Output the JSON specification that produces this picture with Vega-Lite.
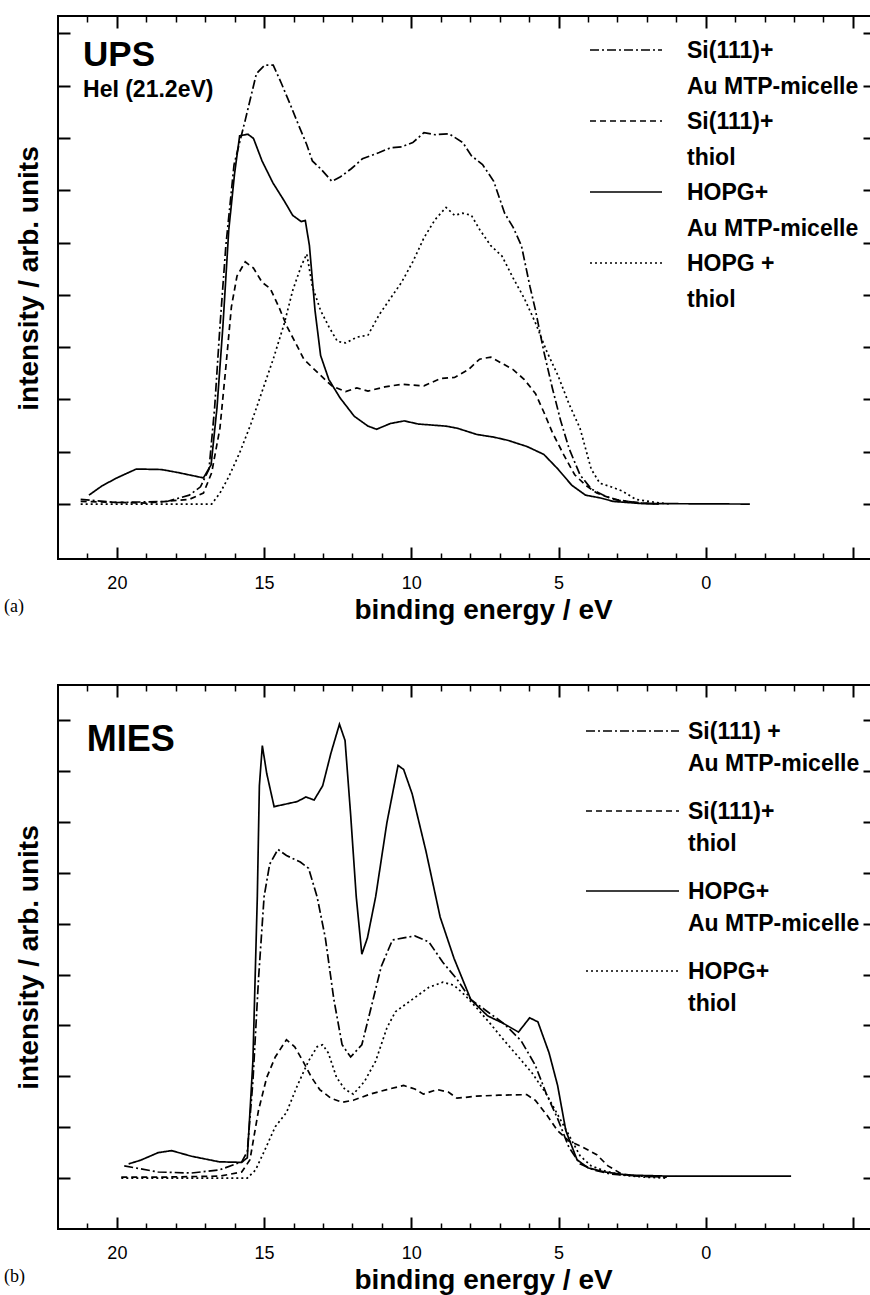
{
  "$schema": "https://vega.github.io/schema/vega-lite/v6.json",
  "padding": {"left": 3, "top": 14, "right": 0, "bottom": 0},
  "background": "white",
  "config": {
    "font": "Liberation Sans",
    "view": {"stroke": "black", "strokeWidth": 2},
    "axis": {"grid": false, "domain": false, "tickColor": "black", "labelColor": "black", "titleColor": "black"},
    "mark": {"color": "black"}
  },
  "spacing": 58,
  "resolve": {"scale": {"strokeDash": "independent"}, "legend": {"strokeDash": "independent"}},
  "datasets": {
    "ups": [
      {"E":20.95,"I":0.17,"s":"HA"},{"E":20.5,"I":0.35,"s":"HA"},{"E":20.0,"I":0.5,"s":"HA"},{"E":19.34,"I":0.67,"s":"HA"},{"E":18.48,"I":0.66,"s":"HA"},{"E":17.9,"I":0.6,"s":"HA"},{"E":17.06,"I":0.5,"s":"HA"},{"E":16.8,"I":0.75,"s":"HA"},{"E":16.6,"I":1.84,"s":"HA"},{"E":16.4,"I":3.39,"s":"HA"},{"E":16.2,"I":5.24,"s":"HA"},{"E":16.0,"I":6.33,"s":"HA"},{"E":15.83,"I":7.04,"s":"HA"},{"E":15.55,"I":7.07,"s":"HA"},{"E":15.36,"I":6.99,"s":"HA"},{"E":15.07,"I":6.56,"s":"HA"},{"E":14.7,"I":6.14,"s":"HA"},{"E":14.31,"I":5.79,"s":"HA"},{"E":14.03,"I":5.52,"s":"HA"},{"E":13.74,"I":5.4,"s":"HA"},{"E":13.6,"I":5.42,"s":"HA"},{"E":13.46,"I":4.94,"s":"HA"},{"E":13.27,"I":3.7,"s":"HA"},{"E":13.08,"I":2.84,"s":"HA"},{"E":12.8,"I":2.38,"s":"HA"},{"E":12.42,"I":2.03,"s":"HA"},{"E":11.94,"I":1.68,"s":"HA"},{"E":11.47,"I":1.49,"s":"HA"},{"E":11.18,"I":1.43,"s":"HA"},{"E":10.71,"I":1.54,"s":"HA"},{"E":10.24,"I":1.59,"s":"HA"},{"E":9.76,"I":1.53,"s":"HA"},{"E":8.82,"I":1.49,"s":"HA"},{"E":8.44,"I":1.45,"s":"HA"},{"E":7.77,"I":1.33,"s":"HA"},{"E":7.2,"I":1.28,"s":"HA"},{"E":6.73,"I":1.22,"s":"HA"},{"E":6.07,"I":1.1,"s":"HA"},{"E":5.5,"I":0.95,"s":"HA"},{"E":5.02,"I":0.67,"s":"HA"},{"E":4.55,"I":0.36,"s":"HA"},{"E":4.08,"I":0.17,"s":"HA"},{"E":3.6,"I":0.12,"s":"HA"},{"E":3.13,"I":0.05,"s":"HA"},{"E":2.18,"I":0.01,"s":"HA"},{"E":-1.5,"I":0,"s":"HA"},
      {"E":21.23,"I":0.09,"s":"SA"},{"E":20.0,"I":0.03,"s":"SA"},{"E":18.3,"I":0.05,"s":"SA"},{"E":17.54,"I":0.17,"s":"SA"},{"E":17.16,"I":0.33,"s":"SA"},{"E":16.87,"I":0.67,"s":"SA"},{"E":16.68,"I":1.84,"s":"SA"},{"E":16.5,"I":3.39,"s":"SA"},{"E":16.3,"I":4.93,"s":"SA"},{"E":16.02,"I":6.49,"s":"SA"},{"E":15.64,"I":7.34,"s":"SA"},{"E":15.26,"I":8.23,"s":"SA"},{"E":14.98,"I":8.39,"s":"SA"},{"E":14.69,"I":8.39,"s":"SA"},{"E":14.41,"I":8.04,"s":"SA"},{"E":14.12,"I":7.65,"s":"SA"},{"E":13.84,"I":7.26,"s":"SA"},{"E":13.55,"I":6.87,"s":"SA"},{"E":13.36,"I":6.56,"s":"SA"},{"E":13.08,"I":6.41,"s":"SA"},{"E":12.7,"I":6.17,"s":"SA"},{"E":12.42,"I":6.25,"s":"SA"},{"E":12.04,"I":6.41,"s":"SA"},{"E":11.66,"I":6.6,"s":"SA"},{"E":11.09,"I":6.72,"s":"SA"},{"E":10.71,"I":6.81,"s":"SA"},{"E":10.33,"I":6.83,"s":"SA"},{"E":9.95,"I":6.91,"s":"SA"},{"E":9.57,"I":7.1,"s":"SA"},{"E":9.19,"I":7.06,"s":"SA"},{"E":8.72,"I":7.08,"s":"SA"},{"E":8.25,"I":6.91,"s":"SA"},{"E":7.96,"I":6.66,"s":"SA"},{"E":7.58,"I":6.49,"s":"SA"},{"E":7.2,"I":6.17,"s":"SA"},{"E":6.83,"I":5.56,"s":"SA"},{"E":6.54,"I":5.29,"s":"SA"},{"E":6.26,"I":4.94,"s":"SA"},{"E":5.97,"I":4.16,"s":"SA"},{"E":5.78,"I":3.7,"s":"SA"},{"E":5.5,"I":2.92,"s":"SA"},{"E":5.21,"I":2.22,"s":"SA"},{"E":4.93,"I":1.6,"s":"SA"},{"E":4.64,"I":1.06,"s":"SA"},{"E":4.27,"I":0.56,"s":"SA"},{"E":3.89,"I":0.29,"s":"SA"},{"E":3.41,"I":0.15,"s":"SA"},{"E":2.94,"I":0.07,"s":"SA"},{"E":2.18,"I":0.02,"s":"SA"},{"E":1.6,"I":0,"s":"SA"},
      {"E":21.23,"I":0.05,"s":"ST"},{"E":19.0,"I":0.02,"s":"ST"},{"E":17.54,"I":0.09,"s":"ST"},{"E":17.06,"I":0.21,"s":"ST"},{"E":16.78,"I":0.6,"s":"ST"},{"E":16.5,"I":1.45,"s":"ST"},{"E":16.3,"I":2.61,"s":"ST"},{"E":16.11,"I":3.77,"s":"ST"},{"E":15.92,"I":4.36,"s":"ST"},{"E":15.64,"I":4.63,"s":"ST"},{"E":15.36,"I":4.51,"s":"ST"},{"E":15.07,"I":4.24,"s":"ST"},{"E":14.79,"I":4.12,"s":"ST"},{"E":14.5,"I":3.77,"s":"ST"},{"E":14.22,"I":3.39,"s":"ST"},{"E":13.93,"I":3.08,"s":"ST"},{"E":13.65,"I":2.77,"s":"ST"},{"E":13.36,"I":2.61,"s":"ST"},{"E":13.08,"I":2.46,"s":"ST"},{"E":12.7,"I":2.26,"s":"ST"},{"E":12.23,"I":2.15,"s":"ST"},{"E":11.85,"I":2.22,"s":"ST"},{"E":11.47,"I":2.16,"s":"ST"},{"E":10.9,"I":2.24,"s":"ST"},{"E":10.33,"I":2.29,"s":"ST"},{"E":9.57,"I":2.26,"s":"ST"},{"E":9.0,"I":2.4,"s":"ST"},{"E":8.53,"I":2.42,"s":"ST"},{"E":8.06,"I":2.57,"s":"ST"},{"E":7.68,"I":2.77,"s":"ST"},{"E":7.3,"I":2.81,"s":"ST"},{"E":6.92,"I":2.69,"s":"ST"},{"E":6.54,"I":2.57,"s":"ST"},{"E":6.16,"I":2.38,"s":"ST"},{"E":5.78,"I":2.11,"s":"ST"},{"E":5.5,"I":1.76,"s":"ST"},{"E":5.21,"I":1.37,"s":"ST"},{"E":4.83,"I":0.95,"s":"ST"},{"E":4.45,"I":0.56,"s":"ST"},{"E":4.08,"I":0.36,"s":"ST"},{"E":3.7,"I":0.21,"s":"ST"},{"E":3.13,"I":0.09,"s":"ST"},{"E":2.37,"I":0.03,"s":"ST"},{"E":1.6,"I":0,"s":"ST"},
      {"E":21.23,"I":0,"s":"HT"},{"E":16.78,"I":0,"s":"HT"},{"E":16.5,"I":0.21,"s":"HT"},{"E":16.2,"I":0.52,"s":"HT"},{"E":15.83,"I":0.98,"s":"HT"},{"E":15.45,"I":1.53,"s":"HT"},{"E":15.07,"I":2.15,"s":"HT"},{"E":14.69,"I":2.77,"s":"HT"},{"E":14.31,"I":3.46,"s":"HT"},{"E":14.03,"I":4.08,"s":"HT"},{"E":13.74,"I":4.55,"s":"HT"},{"E":13.55,"I":4.78,"s":"HT"},{"E":13.36,"I":4.16,"s":"HT"},{"E":13.08,"I":3.7,"s":"HT"},{"E":12.8,"I":3.39,"s":"HT"},{"E":12.51,"I":3.11,"s":"HT"},{"E":12.23,"I":3.08,"s":"HT"},{"E":11.85,"I":3.19,"s":"HT"},{"E":11.47,"I":3.23,"s":"HT"},{"E":11.09,"I":3.62,"s":"HT"},{"E":10.71,"I":3.93,"s":"HT"},{"E":10.33,"I":4.24,"s":"HT"},{"E":9.95,"I":4.63,"s":"HT"},{"E":9.57,"I":5.09,"s":"HT"},{"E":9.19,"I":5.44,"s":"HT"},{"E":8.82,"I":5.67,"s":"HT"},{"E":8.53,"I":5.52,"s":"HT"},{"E":8.25,"I":5.56,"s":"HT"},{"E":7.96,"I":5.52,"s":"HT"},{"E":7.68,"I":5.25,"s":"HT"},{"E":7.3,"I":4.94,"s":"HT"},{"E":6.92,"I":4.74,"s":"HT"},{"E":6.54,"I":4.32,"s":"HT"},{"E":6.16,"I":3.93,"s":"HT"},{"E":5.78,"I":3.46,"s":"HT"},{"E":5.4,"I":2.92,"s":"HT"},{"E":5.02,"I":2.46,"s":"HT"},{"E":4.64,"I":1.91,"s":"HT"},{"E":4.27,"I":1.45,"s":"HT"},{"E":3.89,"I":0.67,"s":"HT"},{"E":3.6,"I":0.4,"s":"HT"},{"E":3.22,"I":0.33,"s":"HT"},{"E":2.84,"I":0.25,"s":"HT"},{"E":2.37,"I":0.09,"s":"HT"},{"E":1.8,"I":0.04,"s":"HT"},{"E":1.23,"I":0,"s":"HT"}
    ],
    "mies": [
      {"E":19.6,"I":0.28,"s":"HA"},{"E":19.2,"I":0.35,"s":"HA"},{"E":18.6,"I":0.5,"s":"HA"},{"E":18.14,"I":0.54,"s":"HA"},{"E":17.47,"I":0.43,"s":"HA"},{"E":16.52,"I":0.32,"s":"HA"},{"E":15.76,"I":0.31,"s":"HA"},{"E":15.57,"I":0.4,"s":"HA"},{"E":15.38,"I":2.3,"s":"HA"},{"E":15.23,"I":5.53,"s":"HA"},{"E":15.16,"I":7.71,"s":"HA"},{"E":15.06,"I":8.5,"s":"HA"},{"E":14.91,"I":7.95,"s":"HA"},{"E":14.66,"I":7.3,"s":"HA"},{"E":14.34,"I":7.34,"s":"HA"},{"E":13.87,"I":7.4,"s":"HA"},{"E":13.58,"I":7.49,"s":"HA"},{"E":13.3,"I":7.43,"s":"HA"},{"E":13.01,"I":7.71,"s":"HA"},{"E":12.73,"I":8.35,"s":"HA"},{"E":12.44,"I":8.92,"s":"HA"},{"E":12.25,"I":8.6,"s":"HA"},{"E":12.06,"I":7.14,"s":"HA"},{"E":11.87,"I":5.53,"s":"HA"},{"E":11.68,"I":4.4,"s":"HA"},{"E":11.49,"I":4.72,"s":"HA"},{"E":11.21,"I":5.53,"s":"HA"},{"E":10.83,"I":6.98,"s":"HA"},{"E":10.45,"I":8.11,"s":"HA"},{"E":10.26,"I":8.03,"s":"HA"},{"E":9.97,"I":7.55,"s":"HA"},{"E":9.5,"I":6.42,"s":"HA"},{"E":9.02,"I":5.13,"s":"HA"},{"E":8.55,"I":4.32,"s":"HA"},{"E":7.98,"I":3.51,"s":"HA"},{"E":7.41,"I":3.19,"s":"HA"},{"E":6.84,"I":3.03,"s":"HA"},{"E":6.36,"I":2.87,"s":"HA"},{"E":5.98,"I":3.15,"s":"HA"},{"E":5.7,"I":3.07,"s":"HA"},{"E":5.32,"I":2.46,"s":"HA"},{"E":5.03,"I":1.82,"s":"HA"},{"E":4.75,"I":0.93,"s":"HA"},{"E":4.37,"I":0.36,"s":"HA"},{"E":3.99,"I":0.2,"s":"HA"},{"E":3.42,"I":0.12,"s":"HA"},{"E":2.66,"I":0.06,"s":"HA"},{"E":1.33,"I":0.04,"s":"HA"},{"E":-2.9,"I":0.04,"s":"HA"},
      {"E":19.75,"I":0.24,"s":"SA"},{"E":18.6,"I":0.12,"s":"SA"},{"E":17.47,"I":0.1,"s":"SA"},{"E":16.52,"I":0.16,"s":"SA"},{"E":15.76,"I":0.32,"s":"SA"},{"E":15.57,"I":0.52,"s":"SA"},{"E":15.38,"I":1.9,"s":"SA"},{"E":15.19,"I":3.91,"s":"SA"},{"E":15.0,"I":5.53,"s":"SA"},{"E":14.81,"I":6.17,"s":"SA"},{"E":14.53,"I":6.46,"s":"SA"},{"E":14.24,"I":6.34,"s":"SA"},{"E":13.77,"I":6.21,"s":"SA"},{"E":13.49,"I":6.09,"s":"SA"},{"E":13.2,"I":5.53,"s":"SA"},{"E":12.92,"I":4.72,"s":"SA"},{"E":12.63,"I":3.51,"s":"SA"},{"E":12.35,"I":2.62,"s":"SA"},{"E":12.06,"I":2.38,"s":"SA"},{"E":11.68,"I":2.62,"s":"SA"},{"E":11.4,"I":3.27,"s":"SA"},{"E":11.02,"I":4.16,"s":"SA"},{"E":10.64,"I":4.68,"s":"SA"},{"E":10.26,"I":4.72,"s":"SA"},{"E":9.88,"I":4.76,"s":"SA"},{"E":9.4,"I":4.64,"s":"SA"},{"E":8.93,"I":4.24,"s":"SA"},{"E":8.45,"I":3.91,"s":"SA"},{"E":7.98,"I":3.51,"s":"SA"},{"E":7.41,"I":3.27,"s":"SA"},{"E":6.84,"I":3.03,"s":"SA"},{"E":6.27,"I":2.7,"s":"SA"},{"E":5.79,"I":2.22,"s":"SA"},{"E":5.41,"I":1.65,"s":"SA"},{"E":5.03,"I":1.17,"s":"SA"},{"E":4.65,"I":0.61,"s":"SA"},{"E":4.27,"I":0.28,"s":"SA"},{"E":3.8,"I":0.16,"s":"SA"},{"E":3.23,"I":0.08,"s":"SA"},{"E":2.28,"I":0.04,"s":"SA"},{"E":1.33,"I":0.02,"s":"SA"},
      {"E":19.85,"I":0.02,"s":"ST"},{"E":18.4,"I":0.02,"s":"ST"},{"E":16.5,"I":0.04,"s":"ST"},{"E":15.76,"I":0.12,"s":"ST"},{"E":15.48,"I":0.36,"s":"ST"},{"E":15.19,"I":1.33,"s":"ST"},{"E":14.91,"I":1.98,"s":"ST"},{"E":14.62,"I":2.38,"s":"ST"},{"E":14.24,"I":2.72,"s":"ST"},{"E":13.96,"I":2.58,"s":"ST"},{"E":13.68,"I":2.3,"s":"ST"},{"E":13.39,"I":1.98,"s":"ST"},{"E":13.11,"I":1.74,"s":"ST"},{"E":12.73,"I":1.57,"s":"ST"},{"E":12.35,"I":1.49,"s":"ST"},{"E":11.97,"I":1.53,"s":"ST"},{"E":11.4,"I":1.65,"s":"ST"},{"E":10.83,"I":1.74,"s":"ST"},{"E":10.26,"I":1.82,"s":"ST"},{"E":9.88,"I":1.75,"s":"ST"},{"E":9.59,"I":1.65,"s":"ST"},{"E":9.12,"I":1.74,"s":"ST"},{"E":8.74,"I":1.69,"s":"ST"},{"E":8.45,"I":1.57,"s":"ST"},{"E":7.79,"I":1.61,"s":"ST"},{"E":7.03,"I":1.63,"s":"ST"},{"E":6.08,"I":1.64,"s":"ST"},{"E":5.79,"I":1.53,"s":"ST"},{"E":5.41,"I":1.25,"s":"ST"},{"E":5.03,"I":0.93,"s":"ST"},{"E":4.65,"I":0.73,"s":"ST"},{"E":4.18,"I":0.61,"s":"ST"},{"E":3.7,"I":0.46,"s":"ST"},{"E":3.32,"I":0.24,"s":"ST"},{"E":2.85,"I":0.08,"s":"ST"},{"E":2.28,"I":0.04,"s":"ST"},{"E":1.33,"I":0.02,"s":"ST"},
      {"E":19.85,"I":0,"s":"HT"},{"E":15.57,"I":0,"s":"HT"},{"E":15.29,"I":0.16,"s":"HT"},{"E":15.0,"I":0.52,"s":"HT"},{"E":14.62,"I":1.01,"s":"HT"},{"E":14.24,"I":1.29,"s":"HT"},{"E":13.87,"I":1.82,"s":"HT"},{"E":13.49,"I":2.3,"s":"HT"},{"E":13.2,"I":2.58,"s":"HT"},{"E":13.01,"I":2.62,"s":"HT"},{"E":12.82,"I":2.46,"s":"HT"},{"E":12.54,"I":1.98,"s":"HT"},{"E":12.25,"I":1.74,"s":"HT"},{"E":11.97,"I":1.65,"s":"HT"},{"E":11.59,"I":1.9,"s":"HT"},{"E":11.21,"I":2.3,"s":"HT"},{"E":10.83,"I":2.95,"s":"HT"},{"E":10.54,"I":3.27,"s":"HT"},{"E":10.16,"I":3.43,"s":"HT"},{"E":9.78,"I":3.59,"s":"HT"},{"E":9.4,"I":3.75,"s":"HT"},{"E":8.93,"I":3.85,"s":"HT"},{"E":8.55,"I":3.79,"s":"HT"},{"E":8.17,"I":3.59,"s":"HT"},{"E":7.79,"I":3.35,"s":"HT"},{"E":7.31,"I":3.03,"s":"HT"},{"E":6.84,"I":2.7,"s":"HT"},{"E":6.36,"I":2.38,"s":"HT"},{"E":5.89,"I":2.06,"s":"HT"},{"E":5.41,"I":1.65,"s":"HT"},{"E":5.03,"I":1.25,"s":"HT"},{"E":4.65,"I":0.85,"s":"HT"},{"E":4.27,"I":0.44,"s":"HT"},{"E":3.89,"I":0.24,"s":"HT"},{"E":3.42,"I":0.14,"s":"HT"},{"E":2.85,"I":0.06,"s":"HT"},{"E":2.09,"I":0.02,"s":"HT"},{"E":1.33,"I":0,"s":"HT"}
    ]
  },
  "vconcat": [
    {
      "width": 817,
      "height": 543,
      "data": {"name": "ups"},
      "title": {"text": "(a)", "orient": "bottom", "anchor": "start", "frame": "bounds", "font": "Liberation Serif", "fontSize": 18, "fontWeight": "normal", "color": "black", "offset": -26, "dx": -11},
      "resolve": {"axis": {"x": "independent", "y": "independent"}},
      "layer": [
        {
          "mark": {"type": "line", "strokeWidth": 1.7},
          "encoding": {
            "x": {"field": "E", "type": "quantitative", "scale": {"domain": [-5.75, 22], "reverse": true, "nice": false, "zero": false},
              "axis": {"orient": "bottom", "values": [20, 15, 10, 5, 0], "ticks": false, "labelFontSize": 18, "labelPadding": 15, "title": "binding energy / eV", "titleFontSize": 28, "titleFontWeight": "bold", "titlePadding": 4, "titleX": 425}},
            "y": {"field": "I", "type": "quantitative", "scale": {"domain": [-1.05, 9.33], "nice": false, "zero": false},
              "axis": {"orient": "left", "values": [0, 1, 2, 3, 4, 5, 6, 7, 8, 9], "labels": false, "tickSize": -12, "tickWidth": 2, "title": "intensity / arb. units", "titleFontSize": 28, "titleFontWeight": "bold", "titlePadding": 14, "titleY": 262}},
            "strokeDash": {"field": "s", "type": "nominal",
              "scale": {"domain": ["SA", "ST", "HA", "HT"], "range": [[9, 3, 2, 3], [6, 4], [1, 0], [2, 3]]},
              "legend": {"orient": "none", "legendX": 531, "legendY": 22, "title": null, "padding": 0, "symbolType": "stroke", "symbolSize": 5184, "symbolStrokeWidth": 1.5, "symbolStrokeColor": "black", "labelFont": "Liberation Sans", "labelFontSize": 23, "labelFontWeight": "bold", "labelColor": "black", "labelLimit": 0, "labelOffset": 24, "labelBaseline": "top", "rowPadding": 10,
                "labelExpr": "datum.value == 'SA' ? ['Si(111)+', 'Au MTP-micelle'] : datum.value == 'ST' ? ['Si(111)+', 'thiol'] : datum.value == 'HA' ? ['HOPG+', 'Au MTP-micelle'] : ['HOPG +', 'thiol']",
                "encode": {"symbols": {"update": {"y": {"value": 12}}}, "labels": {"update": {"y": {"value": 12}, "lineHeight": {"value": 36}, "dy": {"value": -10}}}}}}
          }
        },
        {
          "mark": {"type": "point", "opacity": 0},
          "encoding": {
            "x": {"field": "E", "type": "quantitative", "axis": {"orient": "bottom", "values": [20, 15, 10, 5, 0, -5], "labels": false, "tickSize": -12, "tickWidth": 2, "title": null}},
            "y": {"field": "I", "type": "quantitative", "axis": {"orient": "right", "values": [0, 1, 2, 3, 4, 5, 6, 7, 8, 9], "labels": false, "tickSize": -12, "tickWidth": 2, "title": null}}
          }
        },
        {
          "mark": {"type": "point", "opacity": 0},
          "encoding": {
            "x": {"field": "E", "type": "quantitative", "axis": {"orient": "bottom", "values": [21, 19, 18, 17, 16, 14, 13, 12, 11, 9, 8, 7, 6, 4, 3, 2, 1, -1, -2, -3, -4], "labels": false, "tickSize": -6, "tickWidth": 1.5, "title": null}},
            "y": {"field": "I", "type": "quantitative", "axis": null}
          }
        },
        {
          "mark": {"type": "point", "opacity": 0},
          "encoding": {
            "x": {"field": "E", "type": "quantitative", "axis": {"orient": "top", "values": [20, 15, 10, 5, 0, -5], "labels": false, "tickSize": -12, "tickWidth": 2, "title": null}},
            "y": {"field": "I", "type": "quantitative", "axis": null}
          }
        },
        {
          "mark": {"type": "point", "opacity": 0},
          "encoding": {
            "x": {"field": "E", "type": "quantitative", "axis": {"orient": "top", "values": [21, 19, 18, 17, 16, 14, 13, 12, 11, 9, 8, 7, 6, 4, 3, 2, 1, -1, -2, -3, -4], "labels": false, "tickSize": -6, "tickWidth": 1.5, "title": null}},
            "y": {"field": "I", "type": "quantitative", "axis": null}
          }
        },
        {
          "data": {"values": [{}]},
          "mark": {"type": "text", "text": "UPS", "align": "left", "baseline": "alphabetic", "fontSize": 35, "fontWeight": "bold", "font": "Liberation Sans", "color": "black"},
          "encoding": {"x": {"datum": 21.15, "type": "quantitative", "axis": null}, "y": {"datum": 8.37, "type": "quantitative", "axis": null}}
        },
        {
          "data": {"values": [{}]},
          "mark": {"type": "text", "text": "HeI (21.2eV)", "align": "left", "baseline": "alphabetic", "fontSize": 23, "fontWeight": "bold", "font": "Liberation Sans", "color": "black"},
          "encoding": {"x": {"datum": 21.15, "type": "quantitative", "axis": null}, "y": {"datum": 7.78, "type": "quantitative", "axis": null}}
        }
      ]
    },
    {
      "width": 817,
      "height": 544,
      "data": {"name": "mies"},
      "title": {"text": "(b)", "orient": "bottom", "anchor": "start", "frame": "bounds", "font": "Liberation Serif", "fontSize": 18, "fontWeight": "normal", "color": "black", "offset": -26, "dx": -11},
      "resolve": {"axis": {"x": "independent", "y": "independent"}},
      "layer": [
        {
          "mark": {"type": "line", "strokeWidth": 1.7},
          "encoding": {
            "x": {"field": "E", "type": "quantitative", "scale": {"domain": [-5.75, 22], "reverse": true, "nice": false, "zero": false},
              "axis": {"orient": "bottom", "values": [20, 15, 10, 5, 0], "ticks": false, "labelFontSize": 18, "labelPadding": 15, "title": "binding energy / eV", "titleFontSize": 28, "titleFontWeight": "bold", "titlePadding": 4, "titleX": 425}},
            "y": {"field": "I", "type": "quantitative", "scale": {"domain": [-1.0, 9.69], "nice": false, "zero": false},
              "axis": {"orient": "left", "values": [0, 1, 2, 3, 4, 5, 6, 7, 8, 9], "labels": false, "tickSize": -12, "tickWidth": 2, "title": "intensity / arb. units", "titleFontSize": 28, "titleFontWeight": "bold", "titlePadding": 14}},
            "strokeDash": {"field": "s", "type": "nominal",
              "scale": {"domain": ["SA", "ST", "HA", "HT"], "range": [[9, 3, 2, 3], [6, 4], [1, 0], [2, 3]]},
              "legend": {"orient": "none", "legendX": 527, "legendY": 34, "title": null, "padding": 0, "symbolType": "stroke", "symbolSize": 8649, "symbolStrokeWidth": 1.5, "symbolStrokeColor": "black", "labelFont": "Liberation Sans", "labelFontSize": 23, "labelFontWeight": "bold", "labelColor": "black", "labelLimit": 0, "labelOffset": 8, "labelBaseline": "top", "rowPadding": 23,
                "labelExpr": "datum.value == 'SA' ? ['Si(111) +', 'Au MTP-micelle'] : datum.value == 'ST' ? ['Si(111)+', 'thiol'] : datum.value == 'HA' ? ['HOPG+', 'Au MTP-micelle'] : ['HOPG+', 'thiol']",
                "encode": {"symbols": {"update": {"y": {"value": 12}}}, "labels": {"update": {"y": {"value": 12}, "lineHeight": {"value": 32}, "dy": {"value": -10}}}}}}
          }
        },
        {
          "mark": {"type": "point", "opacity": 0},
          "encoding": {
            "x": {"field": "E", "type": "quantitative", "axis": {"orient": "bottom", "values": [20, 15, 10, 5, 0, -5], "labels": false, "tickSize": -12, "tickWidth": 2, "title": null}},
            "y": {"field": "I", "type": "quantitative", "axis": {"orient": "right", "values": [0, 1, 2, 3, 4, 5, 6, 7, 8, 9], "labels": false, "tickSize": -12, "tickWidth": 2, "title": null}}
          }
        },
        {
          "mark": {"type": "point", "opacity": 0},
          "encoding": {
            "x": {"field": "E", "type": "quantitative", "axis": {"orient": "bottom", "values": [21, 19, 18, 17, 16, 14, 13, 12, 11, 9, 8, 7, 6, 4, 3, 2, 1, -1, -2, -3, -4], "labels": false, "tickSize": -6, "tickWidth": 1.5, "title": null}},
            "y": {"field": "I", "type": "quantitative", "axis": null}
          }
        },
        {
          "mark": {"type": "point", "opacity": 0},
          "encoding": {
            "x": {"field": "E", "type": "quantitative", "axis": {"orient": "top", "values": [20, 15, 10, 5, 0, -5], "labels": false, "tickSize": -12, "tickWidth": 2, "title": null}},
            "y": {"field": "I", "type": "quantitative", "axis": null}
          }
        },
        {
          "mark": {"type": "point", "opacity": 0},
          "encoding": {
            "x": {"field": "E", "type": "quantitative", "axis": {"orient": "top", "values": [21, 19, 18, 17, 16, 14, 13, 12, 11, 9, 8, 7, 6, 4, 3, 2, 1, -1, -2, -3, -4], "labels": false, "tickSize": -6, "tickWidth": 1.5, "title": null}},
            "y": {"field": "I", "type": "quantitative", "axis": null}
          }
        },
        {
          "data": {"values": [{}]},
          "mark": {"type": "text", "text": "MIES", "align": "left", "baseline": "alphabetic", "fontSize": 36, "fontWeight": "bold", "font": "Liberation Sans", "color": "black"},
          "encoding": {"x": {"datum": 21.02, "type": "quantitative", "axis": null}, "y": {"datum": 8.39, "type": "quantitative", "axis": null}}
        }
      ]
    }
  ]
}
